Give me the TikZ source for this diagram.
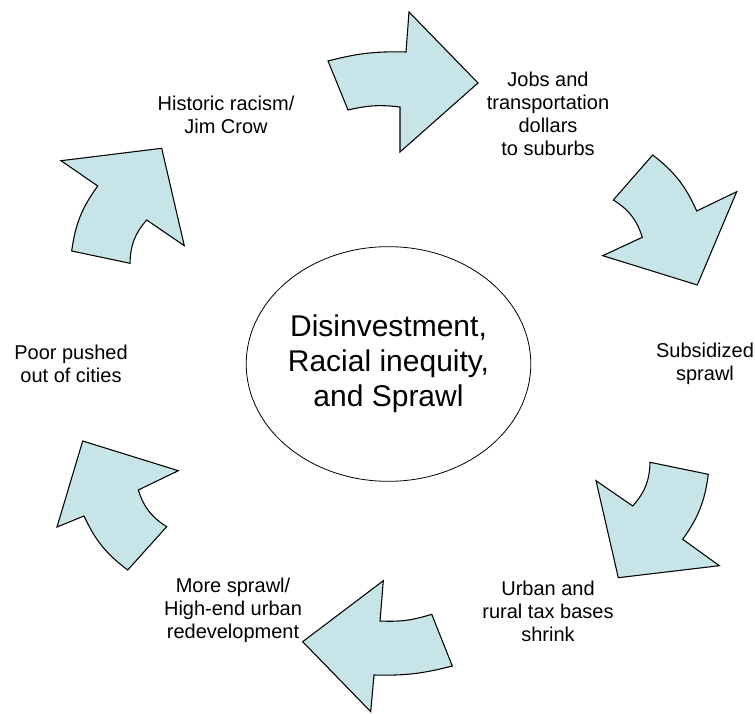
\documentclass[tikz,border=0pt]{standalone}
\usepackage{fontspec}
\setmainfont{Liberation Sans}
\usetikzlibrary{shapes.geometric}
\definecolor{arrowfill}{RGB}{199,229,233}

\begin{document}
\begin{tikzpicture}[x=0.75pt,y=0.75pt,
  blockarrow/.style={draw=black, fill=arrowfill, line width=0.8pt, line join=miter},
  lbl/.style={align=center, inner sep=0pt, font=\fontsize{15}{17.25}\selectfont},
  hub/.style={draw=black, ellipse, line width=0.6pt, minimum width=197pt, minimum height=176pt,
    inner sep=0pt, align=center, font=\fontsize{22.5}{26.25}\selectfont}]
\useasboundingbox (0,0) rectangle (755,713);

% centre of the cycle
\node[hub] (hub) at (388.5,349) {Disinvestment,\\Racial inequity,\\and Sprawl};

% steps round the cycle
\node[lbl] (racism) at (226,598) {Historic racism/\\Jim Crow};
\node[lbl] (jobs) at (548,599) {Jobs and\\transportation\\dollars\\to suburbs};
\node[lbl] (subsidized) at (705,349) {Subsidized\\sprawl};
\node[lbl] (taxbase) at (548,102) {Urban and\\rural tax bases\\shrink};
\node[lbl] (moresprawl) at (233,103) {More sprawl/\\High-end urban\\redevelopment};
\node[lbl] (poor) at (71,349) {Poor pushed\\out of cities};

% curved block arrows, clockwise from the top
\draw[blockarrow] (328,652) to[bend left=8] (406,661) -- (409,701) -- (478,630)
  -- (400,561) -- (400,606) to[bend right=10] (348,603) -- cycle;
\draw[blockarrow] (652.7,558) to[bend left=14] (696.7,502) -- (736.7,521.3) -- (697.3,428)
  -- (602.7,457.3) -- (642.3,475.7) to[bend right=20] (613.3,513) -- cycle;
\draw[blockarrow] (708.3,238.7) to[bend left=14] (682.7,173.7) -- (719.3,147.3) -- (618.3,135.3)
  -- (596,232.3) -- (632.7,207) to[bend right=20] (650,250.7) -- cycle;
\draw[blockarrow] (452.3,47) to[bend left=8] (374,38) -- (370.7,1.3) -- (302.7,71.3)
  -- (383.3,132.3) -- (380,92) to[bend right=10] (431.7,98.7) -- cycle;
\draw[blockarrow] (127.7,143) to[bend left=14] (84,197) -- (57,186) -- (82.7,272)
  -- (178.3,242.3) -- (138.3,223) to[bend right=20] (166.7,186.3) -- cycle;
\draw[blockarrow] (71.7,462) to[bend left=14] (97.7,527) -- (61,552.3) -- (161.7,564.7)
  -- (184.3,467.3) -- (146.7,493) to[bend right=20] (130,449.7) -- cycle;

\end{tikzpicture}
\end{document}
